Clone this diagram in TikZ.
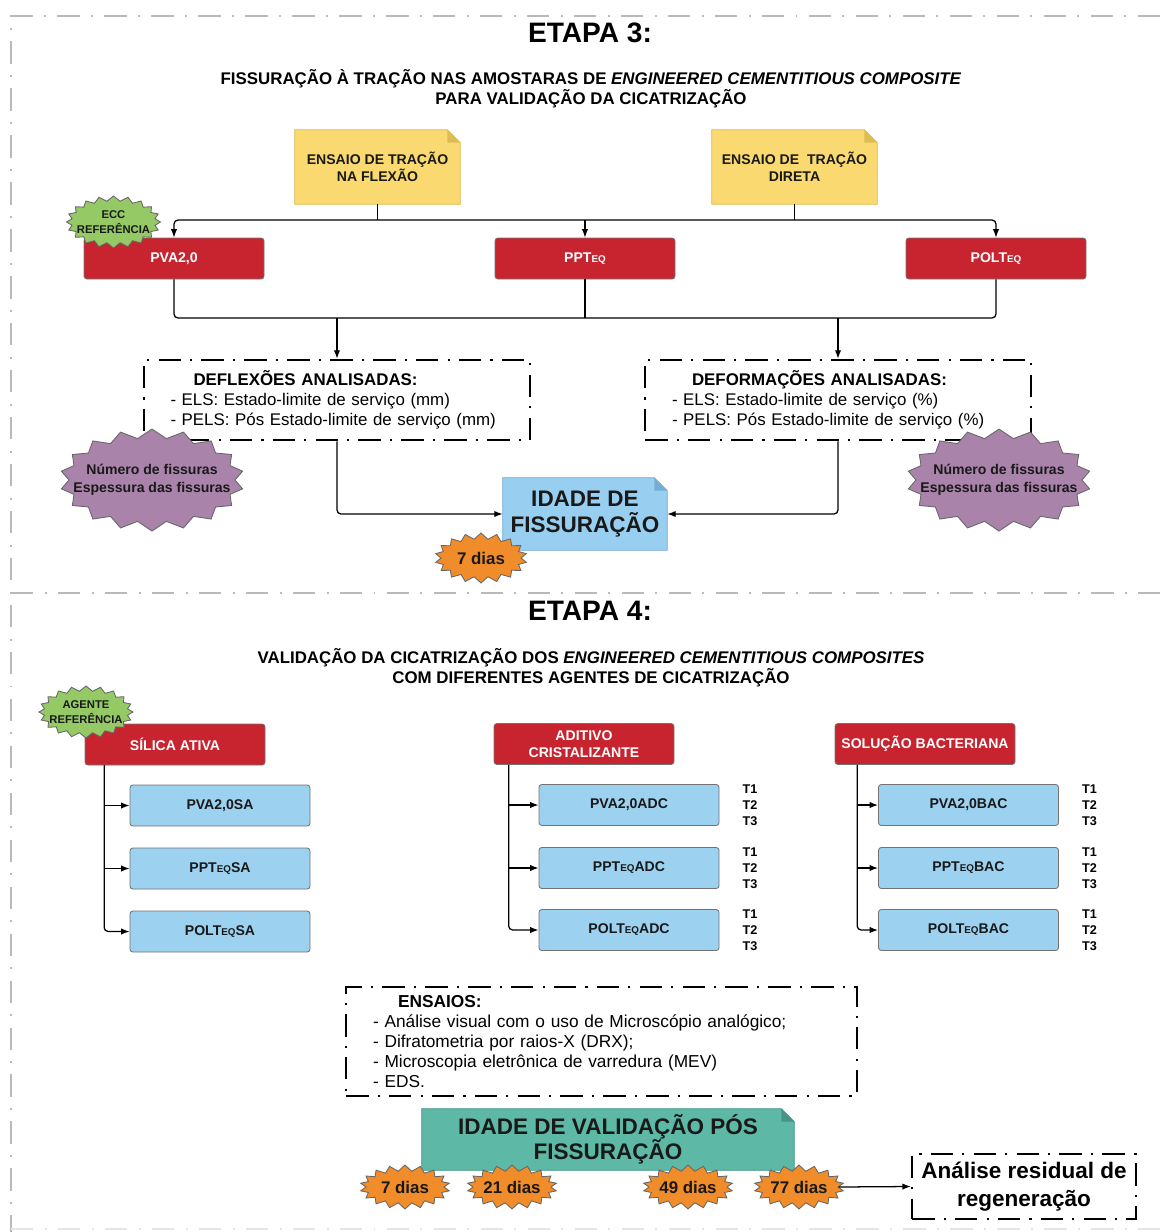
\documentclass[tikz,border=0pt]{standalone}
\usepackage{fontspec}
\setmainfont{Liberation Sans}
\usepackage{tikz}
\usetikzlibrary{positioning,arrows.meta,calc,shapes.symbols,backgrounds}
\usepackage{xcolor}

% one unit of the drawing grid
\newdimen\pxu \pxu=0.025cm

\definecolor{boxred}{RGB}{200,36,48}
\definecolor{boxblue}{RGB}{157,209,240}
\definecolor{notey}{RGB}{250,218,112}
\definecolor{noteyd}{RGB}{222,188,84}
\definecolor{noteb}{RGB}{152,207,240}
\definecolor{notebd}{RGB}{118,173,212}
\definecolor{notet}{RGB}{94,184,166}
\definecolor{notetd}{RGB}{68,150,134}
\definecolor{burstpurple}{RGB}{170,131,170}
\definecolor{burstgreen}{RGB}{148,201,102}
\definecolor{burstorange}{RGB}{240,140,42}

% small capitals after PPT / POLT
\newcommand{\eqs}{{\fontsize{7}{7}\selectfont EQ}}

% folded corner drawn behind a note node
\newcommand{\foldnote}[3]{%
  \begin{scope}[on background layer]
    \filldraw[fill=#2,draw=#3,line width=0.6pt] (#1.south west) -- (#1.north west)
      -- ([xshift=-13\pxu]#1.north east) -- ([yshift=-13\pxu]#1.north east)
      -- (#1.south east) -- cycle;
    \fill[#3] ([xshift=-13\pxu]#1.north east) -- ([xshift=-13\pxu,yshift=-13\pxu]#1.north east)
      -- ([yshift=-13\pxu]#1.north east) -- cycle;
  \end{scope}}

\tikzset{
  stageframe/.style={gray!55,line width=1.4pt,dash pattern=on 16pt off 8pt on 1.4pt off 8pt},
  redbox/.style={rectangle,rounded corners=2pt,fill=boxred,draw=black!55,line width=0.5pt,
    text=white,font=\bfseries\fontsize{10}{12}\selectfont,align=center,
    minimum width=180\pxu,minimum height=41\pxu},
  bluebox/.style={rectangle,rounded corners=2pt,fill=boxblue,draw=black!55,line width=0.6pt,
    text=black!90,font=\bfseries\fontsize{10}{12}\selectfont,
    minimum width=180\pxu,minimum height=41\pxu},
  notebox/.style={rectangle,inner sep=0pt,align=center,text=black!90},
  dashedbox/.style={draw,line width=1.8pt,dash pattern=on 16pt off 6.5pt on 1.5pt off 6.5pt,
    align=left,font=\fontsize{12}{14.3}\selectfont},
  burstshape/.style={starburst,starburst points=18,random starburst=0,draw=black!60,
    line width=0.6pt,inner sep=0pt},
  bursttext/.style={align=center,inner sep=0pt,text=black!90},
  wire/.style={black,line width=0.9pt},
  wirehead/.style={wire,-{Latex[length=6pt,width=4.5pt]}},
  tlist/.style={font=\bfseries\fontsize{9}{11.4}\selectfont,align=center,inner sep=0pt}
}

\begin{document}
\begin{tikzpicture}[x=0.025cm,y=-0.025cm]
\useasboundingbox (0,0) rectangle (1160,1232);

% page frame and stage separator
\draw[stageframe] (1160,16) -- (11,16) -- (11,1232);
\draw[stageframe] (11,593) -- (1160,593);
\draw[stageframe,gray!20] (11,1229) -- (1160,1229);

%% ---------------- stage 3 ----------------
\node[font=\bfseries\fontsize{20}{24}\selectfont] (etapa3) at (590,33) {ETAPA 3:};
\node[font=\bfseries\fontsize{12}{14.2}\selectfont,align=center] (tit3) at (591,89)
  {FISSURAÇÃO À TRAÇÃO NAS AMOSTARAS DE \textit{ENGINEERED CEMENTITIOUS COMPOSITE}\\
   PARA VALIDAÇÃO DA CICATRIZAÇÃO};

\node[notebox,minimum width=165\pxu,minimum height=74\pxu,font=\bfseries\fontsize{10}{12}\selectfont]
  (flexao) at (377.5,167) {ENSAIO DE TRAÇÃO\\NA FLEXÃO};
\foldnote{flexao}{notey}{noteyd}
\node[notebox,minimum width=165\pxu,minimum height=74\pxu,font=\bfseries\fontsize{10}{12}\selectfont]
  (direta) at (794.5,167) {ENSAIO DE\ \ TRAÇÃO\\DIRETA};
\foldnote{direta}{notey}{noteyd}

\node[redbox] (pva) at (174,258.5) {PVA2,0};
\node[redbox] (ppt) at (585,258.5) {PPT\eqs};
\node[redbox] (polt) at (996,258.5) {POLT\eqs};

\coordinate (busa) at (0,220);
\draw[wire] (flexao.south) -- (flexao.south |- busa);
\draw[wire] (direta.south) -- (direta.south |- busa);
\draw[wirehead,rounded corners=4\pxu] (ppt.north |- busa) -| (pva.north);
\draw[wirehead,rounded corners=4\pxu] (ppt.north |- busa) -| (polt.north);
\draw[wirehead] (ppt.north |- busa) -- (ppt.north);

\node[burstshape,fill=burstgreen,minimum width=94\pxu,minimum height=52\pxu,
  starburst points=20,starburst point height=5\pxu,
  label={[bursttext,font=\bfseries\fontsize{8}{10.6}\selectfont]center:ECC\\REFERÊNCIA}]
  (eccref) at (113.5,222) {};

\node[dashedbox,text width=333\pxu,inner xsep=26.5\pxu,minimum height=80\pxu] (defl) at (337,400)
  {\hspace*{23\pxu}\textbf{DEFLEXÕES ANALISADAS:}\\
   - ELS: Estado-limite de serviço (mm)\\
   - PELS: Pós Estado-limite de serviço (mm)};
\node[dashedbox,text width=332\pxu,inner xsep=27\pxu,minimum height=80\pxu] (defo) at (838,400)
  {\hspace*{20\pxu}\textbf{DEFORMAÇÕES ANALISADAS:}\\
   - ELS: Estado-limite de serviço (\%)\\
   - PELS: Pós Estado-limite de serviço (\%)};

\coordinate (busb) at (0,318);
\draw[wire,rounded corners=4\pxu] (pva.south) |- (ppt.south |- busb) -| (polt.south);
\draw[wire] (ppt.south) -- (ppt.south |- busb);
\draw[wirehead] (defl.north |- busb) -- (defl.north);
\draw[wirehead] (defo.north |- busb) -- (defo.north);

\node[notebox,minimum width=164\pxu,minimum height=72\pxu,font=\bfseries\fontsize{16}{19}\selectfont]
  (fiss) at (585,514) {IDADE DE\\FISSURAÇÃO};
\foldnote{fiss}{noteb}{notebd}
\draw[wirehead,rounded corners=4\pxu] (defl.south) |- (fiss.west);
\draw[wirehead,rounded corners=4\pxu] (defo.south) |- (fiss.east);

\foreach \n/\x in {fisleft/152,fisright/999}
  \node[burstshape,fill=burstpurple,minimum width=184\pxu,minimum height=102\pxu,
    starburst points=18,starburst point height=9\pxu,
    label={[bursttext,font=\bfseries\fontsize{10}{12.8}\selectfont]center:Número de fissuras\\Espessura das fissuras}]
    (\n) at (\x,480) {};
\node[burstshape,fill=burstorange,minimum width=92\pxu,minimum height=50\pxu,
  starburst point height=6\pxu,
  label={[bursttext,font=\bfseries\fontsize{12}{14}\selectfont]center:7 dias}]
  (dfiss) at (481,558) {};

%% ---------------- stage 4 ----------------
\node[font=\bfseries\fontsize{20}{24}\selectfont] (etapa4) at (590,611) {ETAPA 4:};
\node[font=\bfseries\fontsize{12}{14.2}\selectfont,align=center] (tit4) at (591,668)
  {VALIDAÇÃO DA CICATRIZAÇÃO DOS \textit{ENGINEERED CEMENTITIOUS COMPOSITES}\\
   COM DIFERENTES AGENTES DE CICATRIZAÇÃO};

\node[redbox] (sa) at (175,744.5) {SÍLICA ATIVA};
\node[redbox] (adc) at (584,744) {ADITIVO\\CRISTALIZANTE};
\node[redbox] (bac) at (925,744) {SOLUÇÃO BACTERIANA};

\node[bluebox] (sapva) at (220,805.5) {PVA2,0SA};
\node[bluebox] (sappt) at (220,868.5) {PPT\eqs SA};
\node[bluebox] (sapolt) at (220,931.5) {POLT\eqs SA};
\node[bluebox] (adcpva) at (629,805) {PVA2,0ADC};
\node[bluebox] (adcppt) at (629,868) {PPT\eqs ADC};
\node[bluebox] (adcpolt) at (629,930) {POLT\eqs ADC};
\node[bluebox] (bacpva) at (968.5,805) {PVA2,0BAC};
\node[bluebox] (bacppt) at (968.5,868) {PPT\eqs BAC};
\node[bluebox] (bacpolt) at (968.5,930) {POLT\eqs BAC};

\foreach \b in {adcpva,adcppt,adcpolt,bacpva,bacppt,bacpolt}
  \node[tlist,right=23\pxu of \b] {T1\\T2\\T3};

\coordinate (satrunk) at ($(sa.south west)+(19.5,0)$);
\coordinate (adctrunk) at ($(adc.south west)+(15,0)$);
\coordinate (bactrunk) at ($(bac.south west)+(22.5,0)$);
\foreach \t/\g in {satrunk/sa,adctrunk/adc,bactrunk/bac} {
  \draw[wirehead] (\t) |- (\g pva.west);
  \draw[wirehead] (\t) |- (\g ppt.west);
  \draw[wirehead,rounded corners=4\pxu] (\t) |- (\g polt.west);
}

\node[burstshape,fill=burstgreen,minimum width=94\pxu,minimum height=52\pxu,
  starburst points=20,starburst point height=5\pxu,
  label={[bursttext,font=\bfseries\fontsize{8}{10.6}\selectfont]center:AGENTE\\REFERÊNCIA}]
  (agref) at (86,712) {};

\node[dashedbox,text width=457\pxu,inner xsep=27\pxu,minimum height=109\pxu,
  font=\fontsize{12.3}{14.3}\selectfont] (ensaios) at (601.5,1041.5)
  {\hspace*{25\pxu}\textbf{ENSAIOS:}\\
   - Análise visual com o uso de Microscópio analógico;\\
   - Difratometria por raios-X (DRX);\\
   - Microscopia eletrônica de varredura (MEV)\\
   - EDS.};

\node[notebox,minimum width=372\pxu,minimum height=61\pxu,font=\bfseries\fontsize{16}{17.8}\selectfont]
  (validacao) at (608,1139.5) {IDADE DE VALIDAÇÃO PÓS\\FISSURAÇÃO};
\foldnote{validacao}{notet}{notetd}

\foreach \n/\x/\d in {d7/405/7,d21/512/21,d49/688/49,d77/799/77}
  \node[burstshape,fill=burstorange,minimum width=90\pxu,minimum height=44\pxu,
    starburst point height=6\pxu,
    label={[bursttext,font=\bfseries\fontsize{12}{14}\selectfont]center:\d\ dias}]
    (\n) at (\x,1187) {};

\node[dashedbox,align=center,minimum width=224\pxu,minimum height=65\pxu,line width=1.6pt,
  font=\bfseries\fontsize{16}{20}\selectfont] (residual) at (1024,1186.5)
  {Análise residual de\\regeneração};
\draw[wirehead] (d77.east) -- (residual.west);
\end{tikzpicture}
\end{document}
